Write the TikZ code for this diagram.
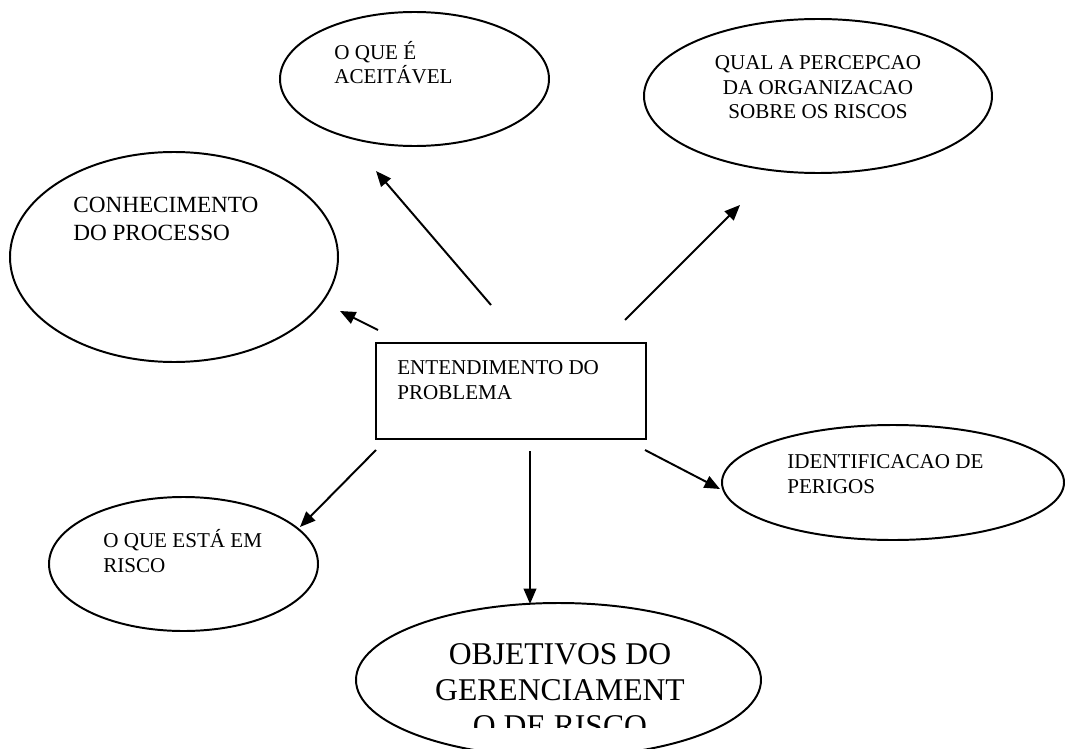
\documentclass[tikz,border=0pt]{standalone}
\usepackage{fontspec}
\setmainfont{Liberation Serif}
\usetikzlibrary{shapes.geometric,arrows.meta}
\def\PX{0.025cm}
\begin{document}
\begin{tikzpicture}[x=0.025cm,y=-0.025cm,
  bubble/.style={draw,ellipse,line width=1.4pt,inner sep=0pt},
  panel/.style={draw,rectangle,line width=1.4pt,inner sep=0pt},
  % text blocks are placed by the baseline of their last line
  words/.style={inner sep=0pt,align=left,anchor=base west,
    font=\fontsize{15pt}{17.7pt}\selectfont},
  link/.style={line width=1.4pt,-{Triangle[length=11pt,width=9pt]}}]
\useasboundingbox (0,0) rectangle (1066,749);

% central box
\node[panel,minimum width=270*\PX,minimum height=96*\PX] (core) at (511,391) {};
\node[words] (core-t) at (397,399) {ENTENDIMENTO DO\\PROBLEMA};

% surrounding ellipses
\node[bubble,minimum width=269*\PX,minimum height=134*\PX] (acc) at (414.5,79) {};
\node[words] (acc-t) at (334,84) {O QUE É\\ACEITÁVEL};

\node[bubble,minimum width=348*\PX,minimum height=154*\PX] (perc) at (818,96) {};
\node[words,align=center,anchor=base] (perc-t) at (818,119)
  {QUAL A PERCEPCAO\\DA ORGANIZACAO\\SOBRE OS RISCOS};

\node[bubble,minimum width=328*\PX,minimum height=210*\PX] (proc) at (174,257) {};
\node[words,font=\fontsize{16.5pt}{19.8pt}\selectfont] (proc-t) at (73,240)
  {CONHECIMENTO\\DO PROCESSO};

\node[bubble,minimum width=269*\PX,minimum height=134*\PX] (risk) at (183.5,564) {};
\node[words] (risk-t) at (103,572) {O QUE ESTÁ EM\\RISCO};

\node[bubble,minimum width=342*\PX,minimum height=115*\PX] (haz) at (893,482.5) {};
\node[words] (haz-t) at (787,493) {IDENTIFICACAO DE\\PERIGOS};

\node[bubble,minimum width=405*\PX,minimum height=154*\PX] (goal) at (558.5,680) {};
\begin{scope}
  \clip (0,0) rectangle (1066,727);
  \node[words,align=center,anchor=base,
    font=\fontsize{22.5pt}{25.5pt}\selectfont] (goal-t) at (560,736)
    {OBJETIVOS DO\\GERENCIAMENT\\O DE RISCO};
\end{scope}

% arrow end points
\coordinate (a1) at (491,305); \coordinate (b1) at (376,171);
\coordinate (a2) at (625,320); \coordinate (b2) at (740,205);
\coordinate (a3) at (378,330); \coordinate (b3) at (340,311);
\coordinate (a4) at (376,450); \coordinate (b4) at (300,527);
\coordinate (a5) at (530,451); \coordinate (b5) at (530,604);
\coordinate (a6) at (645,450); \coordinate (b6) at (720,489);

\draw[link] (a1) -- (b1);
\draw[link] (a2) -- (b2);
\draw[link] (a3) -- (b3);
\draw[link] (a4) -- (b4);
\draw[link] (a5) -- (b5);
\draw[link] (a6) -- (b6);
\end{tikzpicture}
\end{document}
